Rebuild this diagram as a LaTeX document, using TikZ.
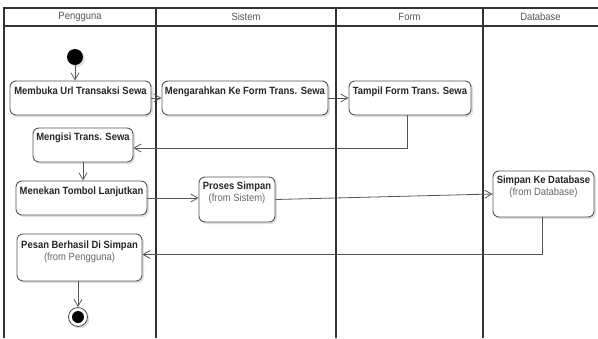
\documentclass[tikz,border=0pt]{standalone}
\usepackage{fontspec}
\setmainfont[FakeStretch=0.9]{Liberation Sans}
\usetikzlibrary{arrows.meta,shadows}
\definecolor{lanec}{HTML}{333333}
\definecolor{edgec}{HTML}{555555}
\definecolor{hdrc}{HTML}{555555}
\definecolor{subc}{HTML}{666666}
\begin{document}
\begin{tikzpicture}[x=1pt,y=-1pt,
 box/.style={draw=edgec, line width=0.9pt, rounded corners=6pt, fill=white, inner sep=0pt,
   drop shadow={shadow xshift=2pt, shadow yshift=-2pt, opacity=0.12, fill=black}},
 lbl/.style={anchor=north, inner sep=0pt, align=center, font=\fontsize{10.5}{12.5}\selectfont, text=black!85},
 flow/.style={draw=edgec, line width=0.8pt, -{Straight Barb[length=7pt,width=8pt]}},
 lane/.style={draw=lanec, line width=1.3pt},
 hdr/.style={font=\fontsize{10.5}{12}\selectfont, text=hdrc, inner sep=0pt}]
\useasboundingbox (0,0) rectangle (598,338);
\fill[white] (0,0) rectangle (598,338);
% swimlanes
\draw[lane] (4,338) -- (4,8) -- (598,8);
\draw[lane] (4,26) -- (598,26);
\draw[lane] (156,8) -- (156,338);
\draw[lane] (336,8) -- (336,338);
\draw[lane] (483,8) -- (483,338);
\node[hdr] (h1) at (80,17) {Pengguna};
\node[hdr] (h2) at (246,17) {Sistem};
\node[hdr] (h3) at (409.5,17) {Form};
\node[hdr] (h4) at (540.5,17) {Database};
% start / end
\node[circle, fill=black, minimum size=16pt, inner sep=0pt,
  drop shadow={shadow xshift=2pt, shadow yshift=-2pt, opacity=0.12, fill=black}] (start) at (75,57) {};
\node[circle, draw=black!70, fill=white, minimum size=19pt, inner sep=0pt, line width=0.8pt,
  drop shadow={shadow xshift=2pt, shadow yshift=-2pt, opacity=0.12, fill=black}] (end) at (78,317) {};
\node[circle, fill=black, minimum size=12pt, inner sep=0pt] (endin) at (end) {};
% boxes
\node[box, minimum width=141pt, minimum height=34pt] (b1) at (80.5,98) {};
\node[box, minimum width=166pt, minimum height=34pt] (b2) at (245,98) {};
\node[box, minimum width=122pt, minimum height=34pt] (b3) at (410,98) {};
\node[box, minimum width=100pt, minimum height=34pt] (b4) at (83,145) {};
\node[box, minimum width=131pt, minimum height=34pt] (b5) at (81.5,198) {};
\node[box, minimum width=76pt, minimum height=45pt] (b6) at (237,199.5) {};
\node[box, minimum width=101pt, minimum height=46pt] (b7) at (543.5,194) {};
\node[box, minimum width=125pt, minimum height=47pt] (b8) at (79.5,257.5) {};
% labels
\node[lbl] (t1) at ([yshift=-6pt]b1.north) {\textbf{Membuka Url Transaksi Sewa}};
\node[lbl] (t2) at ([yshift=-6pt]b2.north) {\textbf{Mengarahkan Ke Form Trans. Sewa}};
\node[lbl] (t3) at ([yshift=-6pt]b3.north) {\textbf{Tampil Form Trans. Sewa}};
\node[lbl] (t4) at ([yshift=-5pt]b4.north) {\textbf{Mengisi Trans. Sewa}};
\node[lbl] (t5) at ([yshift=-6pt]b5.north) {\textbf{Menekan Tombol Lanjutkan}};
\node[lbl] (t6) at ([yshift=-5pt]b6.north) {\textbf{Proses Simpan}\\\textcolor{subc}{(from Sistem)}};
\node[lbl] (t7) at ([yshift=-5pt]b7.north) {\textbf{Simpan Ke Database}\\\textcolor{subc}{(from Database)}};
\node[lbl] (t8) at ([yshift=-7pt]b8.north) {\textbf{Pesan Berhasil Di Simpan}\\\textcolor{subc}{(from Pengguna)}};
% flows
\draw[flow] (start) -- (start |- b1.north);
\draw[flow] (b1.east) -- (b2.west);
\draw[flow] (b2.east) -- (b3.west);
\draw[flow] ([xshift=-3pt]b3.south) |- ([yshift=-3pt]b4.east);
\draw[flow] (b4.south) -- (b4.south |- b5.north);
\draw[flow] (b5.east) -- (b5.east -| b6.west);
\draw[flow] (b6.east) -- (b7.west);
\draw[flow] ([xshift=-1.5pt]b7.south) |- ([yshift=3pt]b8.east);
\draw[flow] (b8.south -| end.north) -- (end.north);
\end{tikzpicture}
\end{document}
